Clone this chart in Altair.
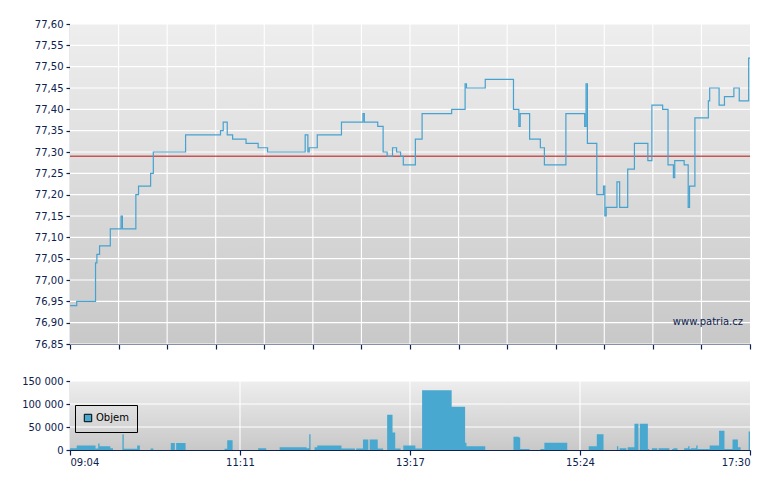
import altair as alt
import pandas as pd

# ---------------- data ----------------
SESSION_START = "09:04"
SESSION_END = "17:30"

PRICE_TIMES = ["09:04", "09:09", "09:23", "09:24", "09:26", "09:34", "09:42", "09:43", "09:53", "09:55",
               "10:04", "10:06", "10:30", "10:56", "10:58", "11:01", "11:05", "11:15", "11:24", "11:31",
               "11:59", "12:01", "12:02", "12:08", "12:26", "12:42", "12:43", "12:53", "12:57", "13:00",
               "13:04", "13:07", "13:10", "13:12", "13:21", "13:26", "13:48", "13:58", "13:59", "14:13",
               "14:34", "14:38", "14:39", "14:46", "14:54", "14:57", "15:13", "15:27", "15:28", "15:29",
               "15:36", "15:41", "15:42", "15:43", "15:51", "15:53", "15:59", "16:04", "16:14", "16:17",
               "16:25", "16:29", "16:33", "16:34", "16:41", "16:44", "16:45", "16:49", "16:59", "17:00",
               "17:07", "17:11", "17:18", "17:22", "17:29", "17:30"]
PRICE_VALUES = [76.94, 76.95, 77.04, 77.06, 77.08, 77.12, 77.15, 77.12, 77.20, 77.22,
                77.25, 77.30, 77.34, 77.35, 77.37, 77.34, 77.33, 77.32, 77.31, 77.30,
                77.34, 77.30, 77.31, 77.34, 77.37, 77.39, 77.37, 77.36, 77.30, 77.29,
                77.31, 77.30, 77.29, 77.27, 77.33, 77.39, 77.40, 77.46, 77.45, 77.47,
                77.40, 77.36, 77.39, 77.33, 77.31, 77.27, 77.39, 77.36, 77.46, 77.32,
                77.20, 77.22, 77.15, 77.17, 77.23, 77.17, 77.26, 77.32, 77.28, 77.41,
                77.40, 77.27, 77.24, 77.28, 77.27, 77.17, 77.22, 77.38, 77.42, 77.45,
                77.41, 77.43, 77.45, 77.42, 77.52, 77.52]

VOL_TIMES = ["09:04", "09:09", "09:23", "09:25", "09:26", "09:34", "09:36", "09:43", "09:44", "09:54",
             "09:56", "10:04", "10:06", "10:19", "10:22", "10:23", "10:30", "10:59", "11:01", "11:05",
             "11:24", "11:30", "11:40", "12:00", "12:02", "12:03", "12:06", "12:08", "12:26", "12:36",
             "12:37", "12:42", "12:46", "12:47", "12:53", "12:57", "13:00", "13:04", "13:06", "13:10",
             "13:12", "13:21", "13:26", "13:48", "13:58", "13:59", "14:13", "14:34", "14:38", "14:39",
             "14:46", "14:54", "14:57", "15:14", "15:30", "15:36", "15:41", "15:51", "15:52", "15:53",
             "15:58", "15:59", "16:04", "16:07", "16:08", "16:14", "16:15", "16:17", "16:21", "16:22",
             "16:30", "16:32", "16:33", "16:36", "16:41", "16:44", "16:45", "16:46", "16:50", "16:51",
             "17:00", "17:07", "17:11", "17:17", "17:21", "17:23", "17:29", "17:30"]
VOL_VALUES = [3700, 10000, 3000, 14000, 8000, 4000, 0, 34000, 2500, 10000,
              0, 3000, 0, 15000, 0, 15000, 0, 2500, 21000, 0,
              4000, 0, 6000, 4000, 34000, 0, 6000, 10000, 3000, 0,
              3000, 23000, 0, 23000, 3000, 0, 76500, 38000, 3000, 0,
              10000, 3000, 130000, 94000, 16000, 8000, 0, 29000, 27000, 2000,
              0, 2000, 16000, 0, 8000, 34000, 0, 8000, 0, 4000,
              0, 6000, 57000, 0, 57000, 2000, 0, 4000, 0, 4000,
              0, 2000, 4000, 0, 4000, 8000, 2000, 4000, 10000, 2000,
              10000, 42000, 2000, 23000, 6000, 0, 40000, 40000]

PREV_CLOSE = 77.29
PRICE_TICKS = [76.85, 76.90, 76.95, 77.00, 77.05, 77.10, 77.15, 77.20,
               77.25, 77.30, 77.35, 77.40, 77.45, 77.50, 77.55, 77.60]
VOL_TICKS = [0, 50000, 100000, 150000]
BOTTOM_LABELS = ["09:04", "11:11", "13:17", "15:24", "17:30"]
TOP_TICK_INTERVALS = 14
VOLUME_NAME = "Objem"
WATERMARK = "www.patria.cz"


def to_min(t):
    h, m = t.split(":")
    return int(h) * 60 + int(m)


START = to_min(SESSION_START)
SPAN = to_min(SESSION_END) - START

price_df = pd.DataFrame({"m": [to_min(t) - START for t in PRICE_TIMES], "p": PRICE_VALUES})
vol_df = pd.DataFrame({"m": [to_min(t) - START for t in VOL_TIMES], "v": VOL_VALUES,
                       "s": [VOLUME_NAME] * len(VOL_TIMES)})

top_ticks = [i * SPAN / TOP_TICK_INTERVALS for i in range(TOP_TICK_INTERVALS + 1)]
bottom_ticks = [i * SPAN / (len(BOTTOM_LABELS) - 1) for i in range(len(BOTTOM_LABELS))]

# ---------------- style ----------------
W, H1, H2 = 680, 320, 69
FONT = "DejaVu Sans"
NAVY = "#0c2150"
LINE_BLUE = "#46a2cf"
BAR_BLUE = "#48a8cf"
EXT = 57

x_scale = alt.Scale(domain=[0, SPAN], nice=False, zero=False)
py_scale = alt.Scale(domain=[PRICE_TICKS[0], PRICE_TICKS[-1]], nice=False, zero=False)
vy_scale = alt.Scale(domain=[VOL_TICKS[0], VOL_TICKS[-1]], nice=False)

label_arr = "[" + ",".join("'" + s + "'" for s in BOTTOM_LABELS) + "]"
step = SPAN / (len(BOTTOM_LABELS) - 1)

top_x_axis = alt.Axis(values=top_ticks, labels=False, ticks=True, tickSize=5, grid=False,
                      title=None, minExtent=5, maxExtent=5)
top_y_axis = alt.Axis(values=PRICE_TICKS, labelExpr="replace(format(datum.value, '.2f'), '.', ',')",
                      grid=False, title=None, tickSize=4, labelPadding=3,
                      minExtent=EXT, maxExtent=EXT)
bot_x_axis = alt.Axis(values=bottom_ticks, labelExpr=f"{label_arr}[round(datum.value / {step})]",
                      grid=False, title=None, tickSize=5, labelPadding=2)
bot_y_axis = alt.Axis(values=VOL_TICKS, labelExpr="replace(format(datum.value, ','), ',', ' ')",
                      grid=False, title=None, tickSize=4, labelPadding=3,
                      minExtent=EXT, maxExtent=EXT)


def gradient():
    return alt.Gradient(gradient="linear", x1=0, y1=0, x2=0, y2=1,
                        stops=[alt.GradientStop(color="#eeeeee", offset=0),
                               alt.GradientStop(color="#c8c8c8", offset=1)])


one = alt.Data(values=[{}])

# ---------------- top chart ----------------
bg1 = alt.Chart(one).mark_rect(color=gradient()).encode(
    x=alt.value(0), x2=alt.value(W), y=alt.value(0), y2=alt.value(H1))

hgrid1 = alt.Chart(pd.DataFrame({"p": PRICE_TICKS})).mark_rule(color="white", strokeWidth=1.1).encode(
    y=alt.Y("p:Q", scale=py_scale, axis=top_y_axis))
vgrid1 = alt.Chart(pd.DataFrame({"m": top_ticks[1:-1]})).mark_rule(color="white", strokeWidth=1.1).encode(
    x=alt.X("m:Q", scale=x_scale, axis=top_x_axis))

prev = alt.Chart(pd.DataFrame({"p": [PREV_CLOSE]})).mark_rule(
    color="#c43c3c", strokeWidth=1.3, opacity=0.85).encode(
    y=alt.Y("p:Q", scale=py_scale, axis=top_y_axis))

price = alt.Chart(price_df).mark_line(interpolate="step-after", color=LINE_BLUE, strokeWidth=1.2).encode(
    x=alt.X("m:Q", scale=x_scale, axis=top_x_axis),
    y=alt.Y("p:Q", scale=py_scale, axis=top_y_axis))

wm = alt.Chart(one).mark_text(text=WATERMARK, align="right", baseline="middle", font=FONT,
                              fontSize=10, color=NAVY).encode(x=alt.value(W - 7), y=alt.value(H1 - 22))

top = alt.layer(bg1, hgrid1, vgrid1, prev, price, wm).properties(width=W, height=H1)

# ---------------- bottom chart ----------------
bg2 = alt.Chart(one).mark_rect(color=gradient()).encode(
    x=alt.value(0), x2=alt.value(W), y=alt.value(0), y2=alt.value(H2))
hgrid2 = alt.Chart(pd.DataFrame({"v": VOL_TICKS[1:]})).mark_rule(color="white", strokeWidth=1.1).encode(
    y=alt.Y("v:Q", scale=vy_scale, axis=bot_y_axis))
vgrid2 = alt.Chart(pd.DataFrame({"m": bottom_ticks[1:-1]})).mark_rule(color="white", strokeWidth=1.1).encode(
    x=alt.X("m:Q", scale=x_scale, axis=bot_x_axis))

vol = alt.Chart(vol_df).mark_area(interpolate="step-after").encode(
    x=alt.X("m:Q", scale=x_scale, axis=bot_x_axis),
    y=alt.Y("v:Q", scale=vy_scale, axis=bot_y_axis),
    color=alt.Color("s:N", scale=alt.Scale(domain=[VOLUME_NAME], range=[BAR_BLUE]),
                    legend=alt.Legend(orient="none", legendX=5, legendY=381, title=None,
                                      strokeColor="black", padding=8, symbolType="square",
                                      symbolStrokeColor="black", symbolStrokeWidth=1, symbolSize=55,
                                      labelFont=FONT, labelFontSize=10, labelColor="black",
                                      labelOffset=3)))

bottom = alt.layer(bg2, hgrid2, vgrid2, vol).properties(width=W, height=H2)

chart = alt.vconcat(top, bottom, spacing=26).properties(
    padding={"left": 5, "top": 11, "right": 5, "bottom": 5}
).configure_view(stroke=None).configure_axis(
    labelFont=FONT, labelFontSize=10, labelColor=NAVY, domainColor=NAVY, tickColor=NAVY,
    domainWidth=1.2, tickWidth=1.2
)

chart.save("out.html", embed_options={"renderer": "svg", "actions": False})
